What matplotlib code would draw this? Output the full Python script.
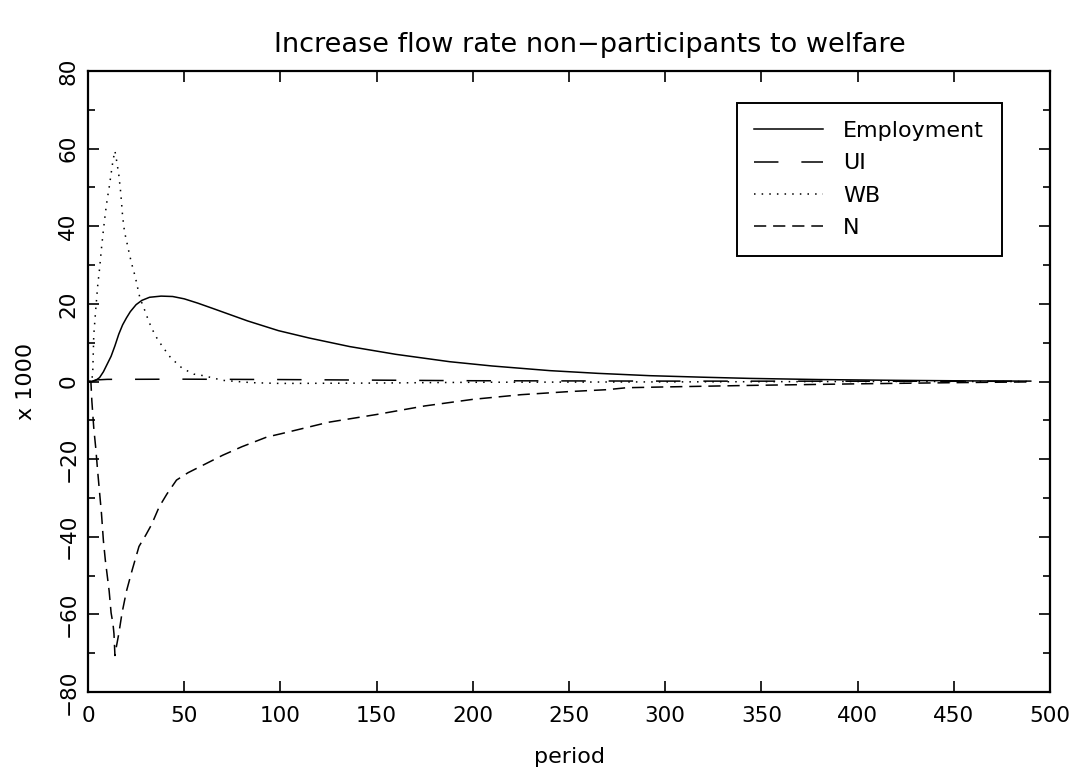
import matplotlib
matplotlib.use("Agg")
import matplotlib.pyplot as plt
from matplotlib.ticker import MultipleLocator

# --- data (x 1000) ---
t_emp = [0, 2, 4, 6, 8, 10, 12, 14, 16, 18, 20, 22, 25, 28, 32, 38, 44, 50, 57, 65,
         74, 83, 99, 115, 136, 160, 188, 210, 240, 265, 292, 320, 344, 380, 420, 460, 490]
employment = [0, 0, 0.3, 1.0, 2.5, 4.5, 6.5, 9.2, 12.2, 14.6, 16.4, 18.0, 19.8, 20.9, 21.7, 22.0, 21.9, 21.3, 20.2, 18.8,
              17.2, 15.6, 13.1, 11.2, 9.0, 7.0, 5.1, 4.0, 2.8, 2.1, 1.5, 1.1, 0.8, 0.5, 0.3, 0.15, 0.1]

t_ui = [0, 2, 4, 10, 50, 100, 150, 200, 300, 490]
ui = [0, 0, 0.4, 0.55, 0.6, 0.5, 0.35, 0.2, 0.1, 0.05]

t_wb = [0, 2, 2.5, 3, 4, 5, 6, 7, 8, 9, 10, 11, 12, 13, 14, 15, 16, 17, 18, 19,
        20, 21, 22, 23, 24, 25, 26, 27, 29, 31, 33, 36, 39, 43, 49, 55, 60, 70, 85, 100,
        150, 200, 300, 400, 490]
wb = [0, 0, 3, 12, 18.4, 24.5, 29, 34.3, 39, 43.3, 47, 50, 53.5, 57, 59.4, 56.5, 53.3, 48.7, 42.5, 38.5,
      36.3, 34, 31.8, 29.8, 28, 26, 23.7, 21.5, 19, 16.3, 13.8, 11, 8.8, 6.1, 3.4, 1.9, 1.5, 0.3, -0.3, -0.5,
      -0.4, -0.2, -0.1, 0, 0]

t_n = [0, 1.5, 2, 3, 4, 5, 6, 7, 8, 9, 10, 11, 12, 13, 13.5, 14, 14.5, 16, 17.7, 20,
       23, 26.5, 30, 33, 37, 41, 46, 52, 58, 70, 80, 93, 100, 125, 150, 175, 200, 225, 250, 270,
       280, 300, 345, 400, 450, 490]
n_flow = [0, 0, -5, -12, -17, -23, -28.5, -34, -41, -46, -50, -54, -59.6, -62.5, -65, -70.6, -69, -65, -59.6, -54,
          -48.5, -42.5, -39.6, -36.9, -32.3, -29, -25.4, -23.5, -22, -19, -16.8, -14.3, -13.5, -10.5, -8.5, -6.3, -4.6, -3.4, -2.6, -2.1,
          -1.6, -1.4, -1.0, -0.6, -0.3, -0.1]

plt.rcParams['font.family'] = ['DejaVu Sans']

fig = plt.figure(figsize=(10.78, 7.76), dpi=100)
ax = fig.add_axes([88 / 1078, 1 - 692 / 776, (1050 - 88) / 1078, (692 - 71) / 776])

lw = 1.1
ax.plot(t_emp, employment, color='black', lw=lw, linestyle='-', label='Employment')
ax.plot(t_ui, ui, color='black', lw=lw, linestyle=(0, (16, 15)), label='UI')
ax.plot(t_wb, wb, color='black', lw=lw, linestyle=(0, (1, 4)), label='WB')
ax.plot(t_n, n_flow, color='black', lw=lw, linestyle=(0, (8, 4.5)), label='N')

ax.set_xlim(0, 500)
ax.set_ylim(-80, 80)
ax.xaxis.set_major_locator(MultipleLocator(50))
ax.yaxis.set_major_locator(MultipleLocator(20))
ax.yaxis.set_minor_locator(MultipleLocator(10))

ax.tick_params(which='both', direction='in', top=True, right=True, colors='black', labelsize=15.5)
ax.tick_params(which='major', length=8, width=1.2)
ax.tick_params(which='minor', length=5, width=1.2)
ax.tick_params(axis='x', pad=10)
ax.tick_params(axis='y', pad=7)
for lbl in ax.get_yticklabels():
    lbl.set_rotation(90)
    lbl.set_va('center')
for s in ax.spines.values():
    s.set_linewidth(1.6)

ax.set_xlabel('period', fontsize=16, labelpad=15)
ax.set_ylabel('x 1000', fontsize=16, labelpad=16)
fig.text(0.547, 0.942, 'Increase flow rate non\u2212participants to welfare',
         fontsize=19.5, ha='center', va='center')

leg = ax.legend(loc='upper right', bbox_to_anchor=(0.950, 0.948), borderaxespad=0,
                fancybox=False, edgecolor='black', fontsize=16, handlelength=3.1,
                handletextpad=0.9, labelspacing=0.55, borderpad=0.8, framealpha=1)
leg.get_frame().set_linewidth(1.4)

fig.savefig('out.png', dpi=100)
